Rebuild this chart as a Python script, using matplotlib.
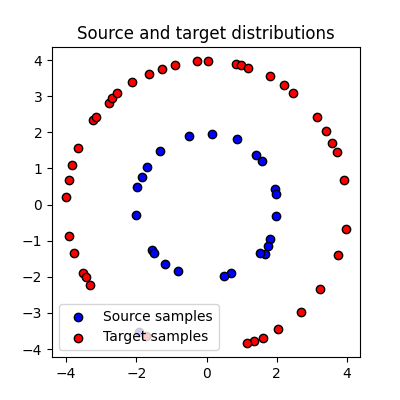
import numpy as np
import matplotlib
matplotlib.use('Agg')
import matplotlib.pyplot as plt

src_x = [-0.51, 0.17, 0.87, -1.32, 1.41, 1.58, -1.69, -1.83, -1.97, 1.94, 1.97, -2.0,
         1.97, 1.80, 1.75, 1.66, 1.52, -1.55, -1.49, -1.18, -0.82, 0.70, 0.51, -1.92]
src_y = [1.90, 1.96, 1.82, 1.48, 1.37, 1.20, 1.03, 0.76, 0.48, 0.42, 0.28, -0.28,
         -0.31, -0.95, -1.15, -1.37, -1.34, -1.26, -1.34, -1.65, -1.85, -1.90, -1.99, -3.52]

tgt_x = [-2.11, -1.63, -1.27, -0.90, -0.28, 0.03, 0.85, 0.99, 1.18, 1.80, 2.20, 2.45,
         3.15, 3.41, 3.58, 3.72, 3.92, 3.97, 3.75, 3.24, 2.70, 2.03, 1.61, 1.35, 1.15,
         -3.66, -3.83, -3.92, -4.0, -3.92, -3.77, -3.52, -3.44, -3.32, -3.22, -3.15,
         -2.79, -2.68, -2.54, -1.72]
tgt_y = [3.38, 3.61, 3.75, 3.86, 3.97, 3.97, 3.89, 3.86, 3.78, 3.55, 3.30, 3.10,
         2.41, 2.04, 1.71, 1.45, 0.67, -0.67, -1.40, -2.35, -2.97, -3.44, -3.69, -3.78, -3.83,
         1.57, 1.09, 0.67, 0.20, -0.87, -1.34, -1.90, -2.01, -2.24, 2.33, 2.43,
         2.80, 2.94, 3.08, -3.64]

fig = plt.figure(figsize=(4, 4), dpi=100)
ax = fig.add_axes([0.13, 0.1075, 0.77, 0.775])
ax.scatter(src_x, src_y, c='b', edgecolors='k', label='Source samples')
ax.scatter(tgt_x, tgt_y, c='r', edgecolors='k', label='Target samples')
ax.set_xticks([-4, -2, 0, 2, 4])
ax.set_yticks([-4, -3, -2, -1, 0, 1, 2, 3, 4])
ax.set_title('Source and target distributions')
ax.legend(loc='lower left')
fig.savefig('out.png', dpi=100)
